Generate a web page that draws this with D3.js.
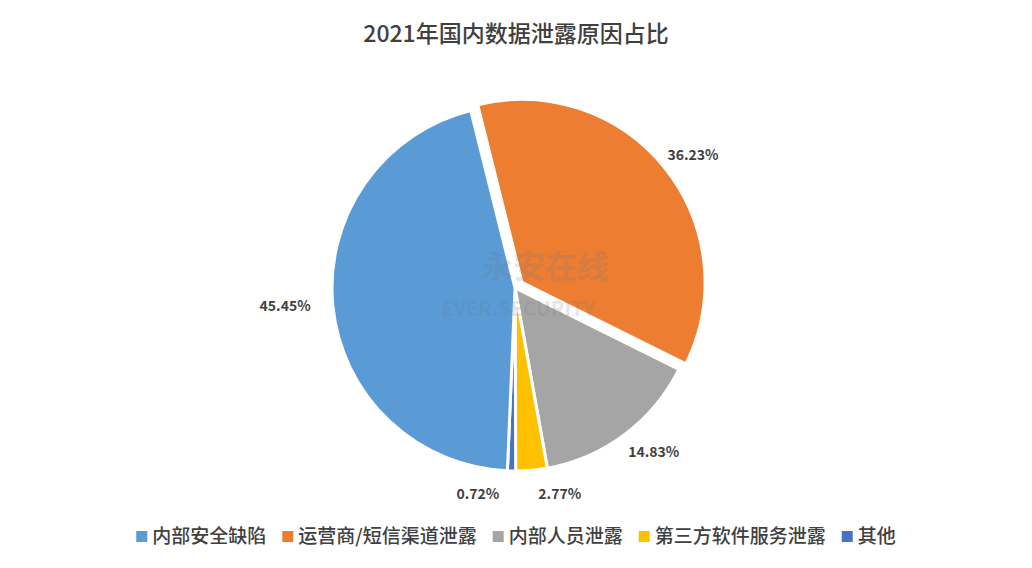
<!DOCTYPE html>
<html><head><meta charset="utf-8">
<script src="https://cdn.jsdelivr.net/npm/d3@7"></script>
<style>body{margin:0;background:#fff;font-family:"Noto Sans CJK SC","Noto Sans",sans-serif;}</style>
</head><body><div id="chart"></div>
<script>
const categories = ['运营商/短信渠道泄露','内部人员泄露','第三方软件服务泄露','其他','内部安全缺陷'];
const values     = [36.23, 14.83, 2.77, 0.72, 45.45];
const colors     = ['#ed7d31','#a5a5a5','#ffc000','#4472c4','#5b9bd5'];
const legendOrder = ['内部安全缺陷','运营商/短信渠道泄露','内部人员泄露','第三方软件服务泄露','其他'];
// Excel-style label nudges for crowded small slices
const labelNudge = [[8,4],[8,-10],[25,-11],[-33,-12],[-13,-4]];

const W = 1032, H = 568, cx = 515, cy = 288, r = 183;
const rot = -14 * Math.PI / 180;
const svg = d3.select('#chart').append('svg').attr('width', W).attr('height', H);

svg.append('text').attr('x', W/2).attr('y', 42).attr('text-anchor','middle')
  .attr('font-size', 23).attr('font-weight', 500).attr('fill','#404040').text('2021年国内数据泄露原因占比');

const pie = d3.pie().sort(null).startAngle(rot).endAngle(rot + 2*Math.PI).value(d => d)(values);
const arc = d3.arc().innerRadius(0).outerRadius(r);
const g = svg.append('g').attr('transform', `translate(${cx},${cy})`);

g.selectAll('path').data(pie).enter().append('path')
  .attr('d', arc)
  .attr('fill', (d,i) => colors[i])
  .attr('stroke', '#fff').attr('stroke-width', 3)
  .attr('transform', (d,i) => {
    if (i !== 0) return null;
    const a = (d.startAngle + d.endAngle)/2, o = 9;
    return `translate(${Math.sin(a)*o},${-Math.cos(a)*o})`;
  });

// watermark
const wm = svg.append('g').attr('opacity', 0.18);
wm.append('text').attr('x', 545).attr('y', 278).attr('text-anchor','middle')
  .attr('font-size', 32).attr('font-weight', 700).attr('fill','#6a7a90').text('永安在线');
wm.append('text').attr('x', 518).attr('y', 316).attr('text-anchor','middle')
  .attr('font-size', 20).attr('font-weight', 700).attr('fill','#6a7a90').text('EVER.SECURITY');

const lr = 218;
g.selectAll('text.lbl').data(pie).enter().append('text')
  .attr('class','lbl')
  .attr('x', (d,i) => Math.sin((d.startAngle+d.endAngle)/2)*lr + labelNudge[i][0])
  .attr('y', (d,i) => -Math.cos((d.startAngle+d.endAngle)/2)*lr + labelNudge[i][1] + 5)
  .attr('text-anchor','middle')
  .attr('font-size', 14).attr('font-weight', 700).attr('fill','#404040')
  .text(d => d.data.toFixed(2) + '%');

// legend
const lg = svg.append('g');
let x = 0;
legendOrder.forEach(name => {
  const item = lg.append('g').attr('transform', `translate(${x},0)`);
  item.append('rect').attr('x',0).attr('y',-6).attr('width',11).attr('height',11)
    .attr('fill', colors[categories.indexOf(name)]);
  const t = item.append('text').attr('x', 16).attr('y', 6).attr('font-size', 19)
    .attr('font-weight', 500).attr('fill','#404040').text(name);
  x += 16 + t.node().getComputedTextLength() + 16;
});
lg.attr('transform', `translate(${(W - x + 16)/2},537)`);
</script></body></html>
